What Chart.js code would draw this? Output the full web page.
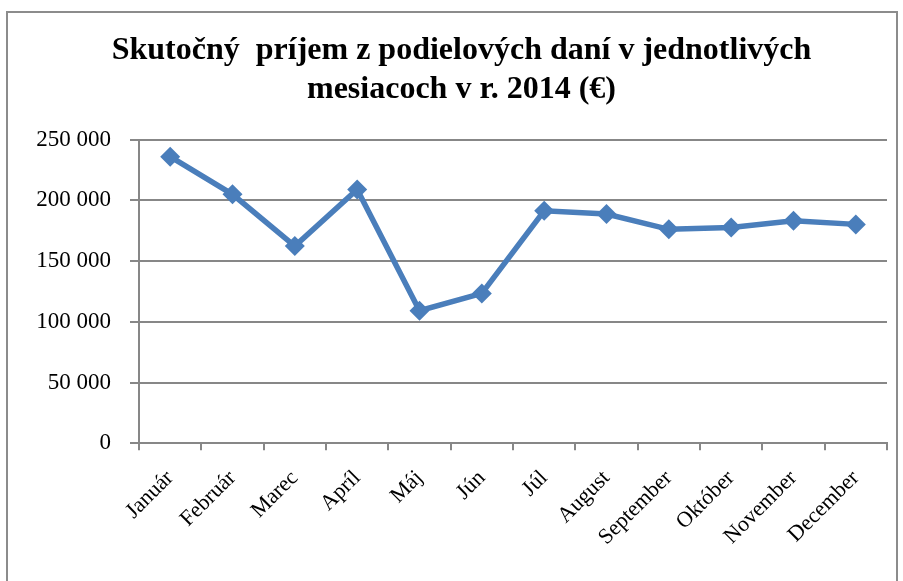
<!DOCTYPE html>
<html>
<head>
<meta charset="utf-8">
<script src="https://cdn.jsdelivr.net/npm/chart.js@4"></script>
<style>
  html, body { margin:0; padding:0; background:#fff; }
  #wrap { position:absolute; left:0; top:0; width:903px; height:581px; }
  #frame { position:absolute; left:6px; top:11px; width:892px; height:600px; border:2px solid #8c8c8c; box-sizing:border-box; pointer-events:none; }
</style>
</head>
<body>
<div id="wrap"><canvas id="c" width="903" height="581"></canvas></div>
<div id="frame"></div>
<script>
const categories = ['Január','Február','Marec','Apríl','Máj','Jún','Júl','August','September','Október','November','December'];
const values = [235900, 204900, 162400, 209000, 109100, 123400, 191400, 188700, 176100, 177700, 183200, 180200];
const titleLines = ['Skutočný  príjem z podielových daní v jednotlivých', 'mesiacoch v r. 2014 (€)'];
const yTicks = { min: 0, max: 250000, step: 50000 };

const serif = "'Liberation Serif', 'Times New Roman', serif";
const gridColor = '#878787';

new Chart(document.getElementById('c'), {
  type: 'line',
  data: {
    labels: categories,
    datasets: [{
      data: values,
      borderColor: '#4a7ebb',
      backgroundColor: '#4a7ebb',
      borderWidth: 5.5,
      pointStyle: 'rectRot',
      pointRadius: 10,
      pointHoverRadius: 10,
      pointBorderWidth: 0,
      tension: 0,
      fill: false
    }]
  },
  options: {
    responsive: false,
    animation: false,
    layout: { padding: { left: 36, right: 16, top: 0, bottom: 0 } },
    plugins: {
      legend: { display: false },
      tooltip: { enabled: false },
      title: {
        display: true,
        text: titleLines,
        color: '#000',
        font: { family: serif, size: 32, weight: 'bold', lineHeight: 1.22 },
        padding: { top: 31.5, bottom: 30 }
      }
    },
    scales: {
      x: {
        type: 'category',
        offset: true,
        afterFit: (s) => { s.height = 137.7; },
        grid: { display: true, drawOnChartArea: false, drawTicks: true, tickLength: 7, color: gridColor, lineWidth: 2, offset: true },
        border: { display: true, color: gridColor, width: 2 },
        ticks: { color: '#000', font: { family: serif, size: 22 }, maxRotation: 45, minRotation: 45, padding: 15, autoSkip: false }
      },
      y: {
        min: yTicks.min, max: yTicks.max,
        afterFit: (s) => { s.width = 103; },
        grid: { color: gridColor, lineWidth: 2, tickLength: 9, drawTicks: true },
        border: { display: true, color: gridColor, width: 2 },
        ticks: {
          stepSize: yTicks.step,
          color: '#000',
          padding: 19,
          font: { family: serif, size: 23 },
          callback: (v) => String(v).replace(/\B(?=(\d{3})+(?!\d))/g, ' ')
        }
      }
    }
  }
});
</script>
</body>
</html>
